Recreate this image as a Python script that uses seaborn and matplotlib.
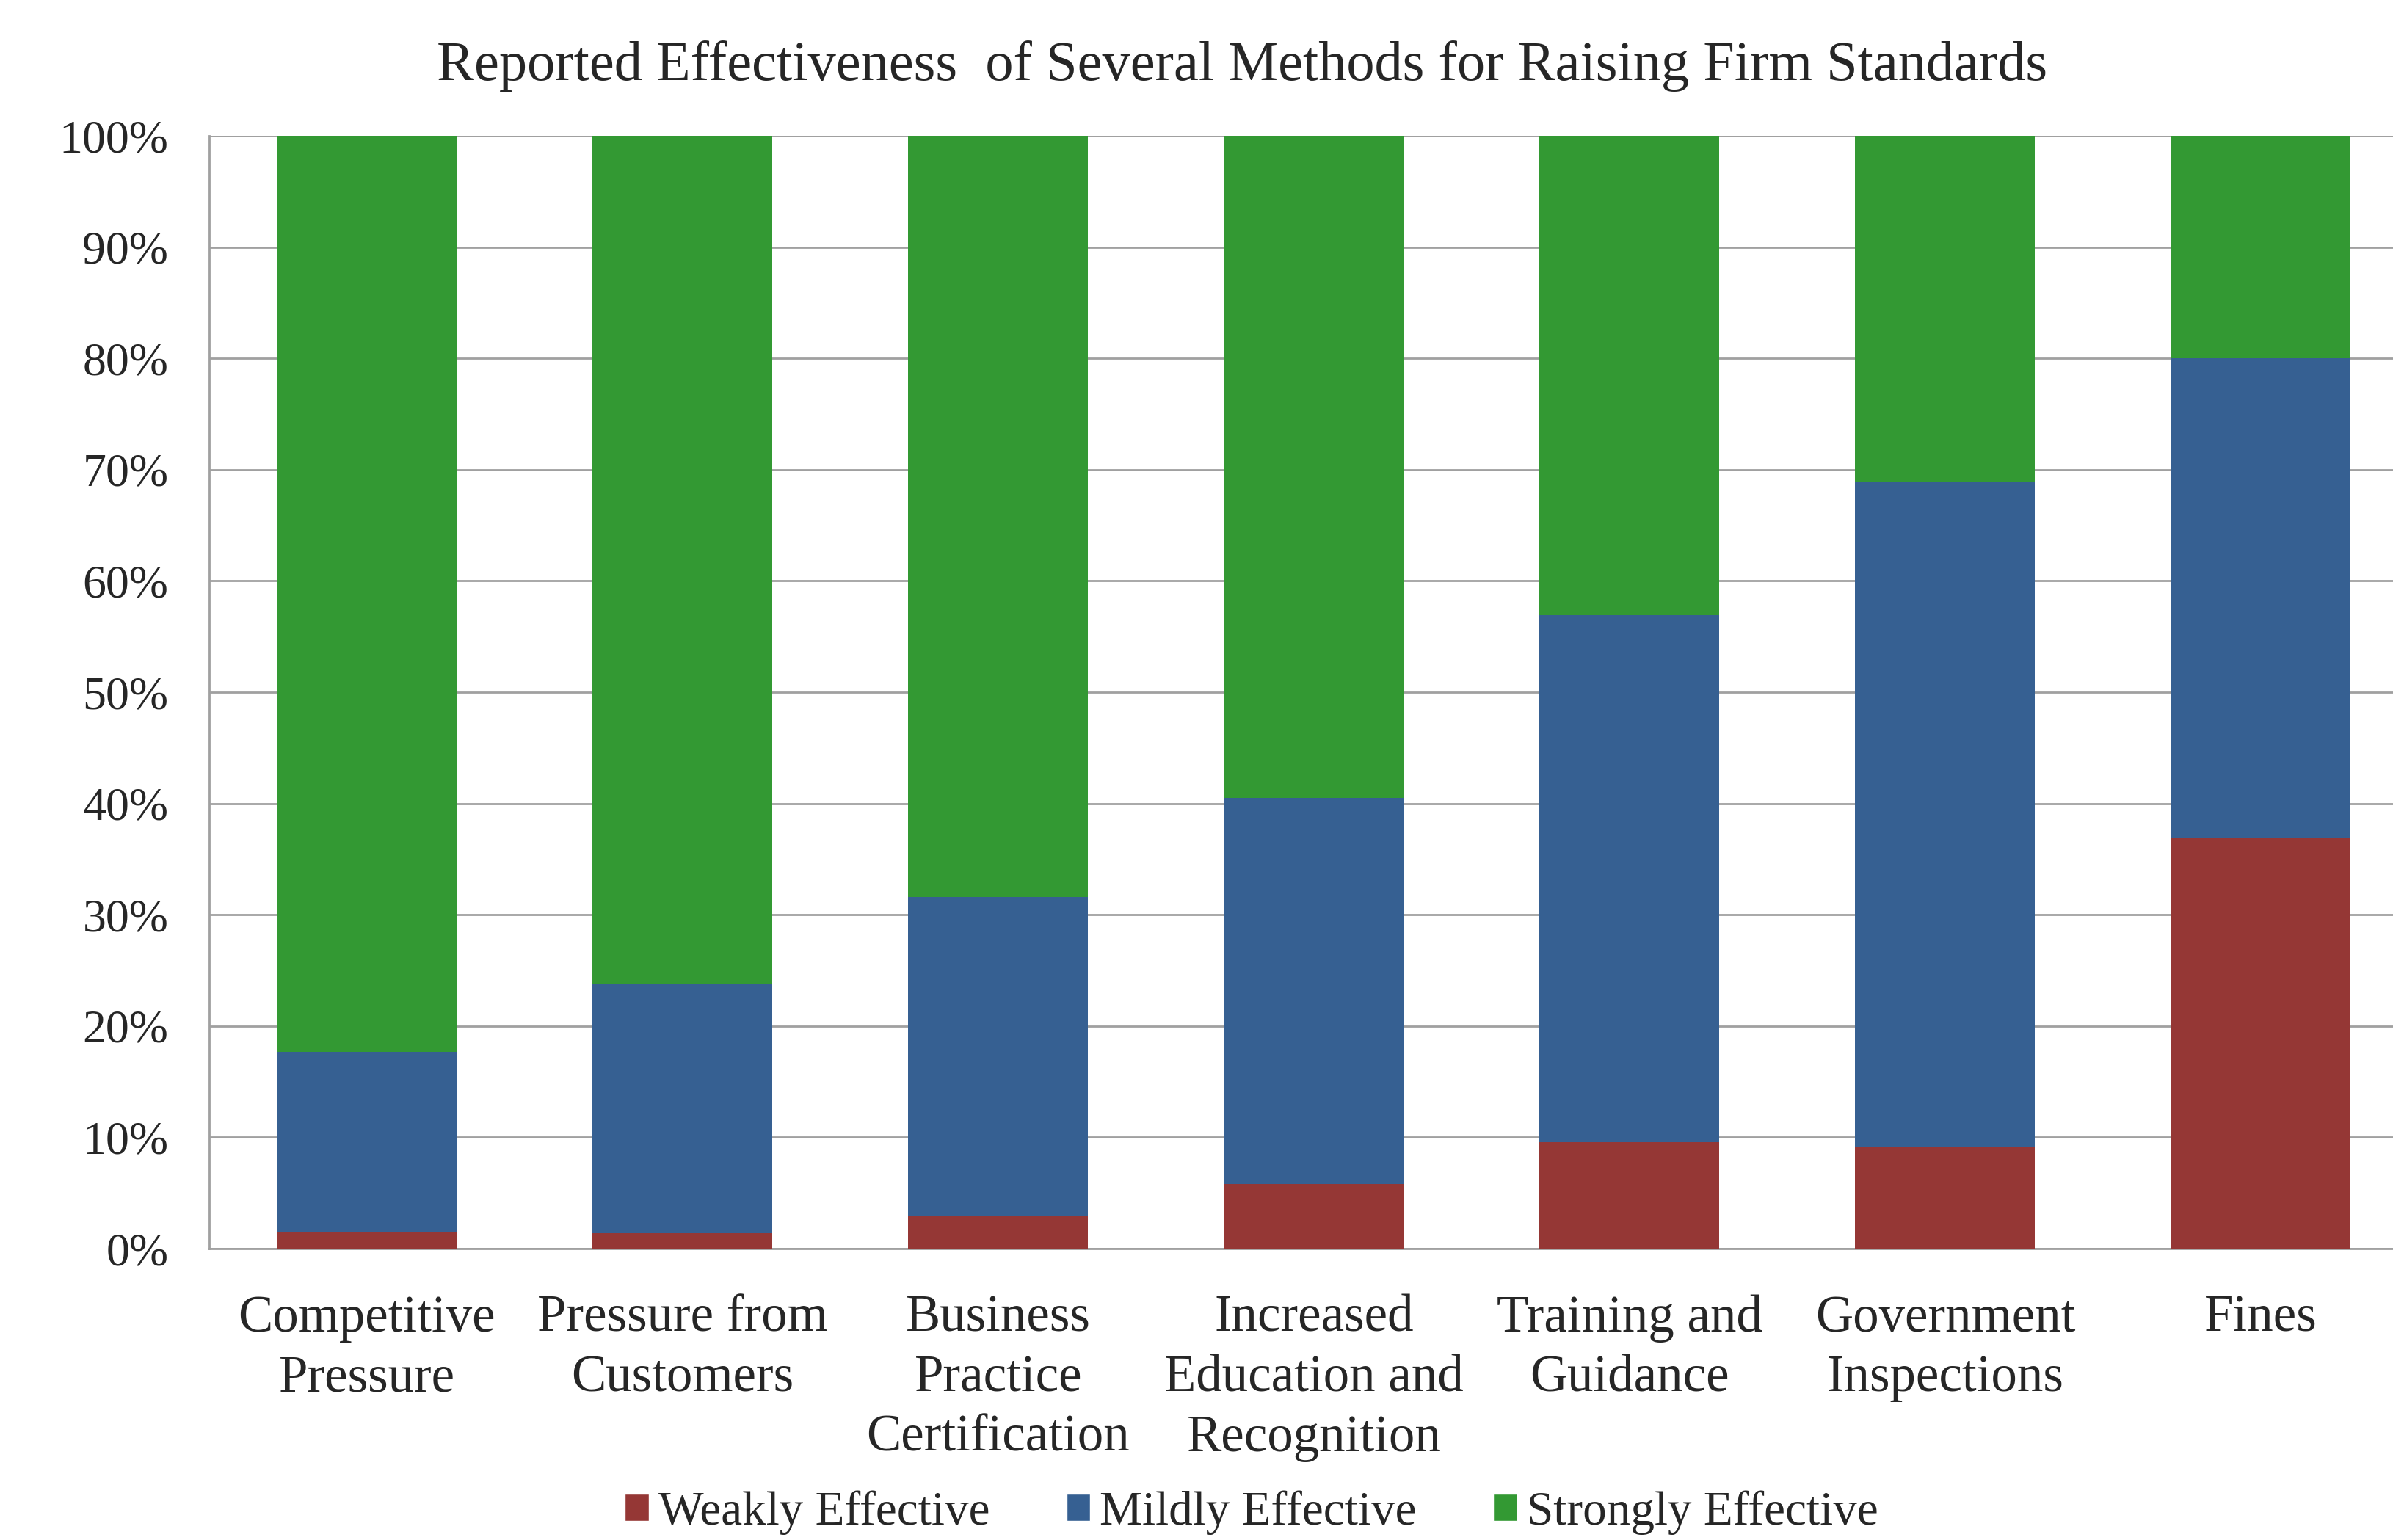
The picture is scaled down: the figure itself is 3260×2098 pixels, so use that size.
import numpy as np
import pandas as pd
import matplotlib
matplotlib.use("Agg")
import matplotlib.pyplot as plt
from matplotlib.patches import Patch
from matplotlib.ticker import PercentFormatter
import seaborn as sns

methods = ["Competitive\nPressure", "Pressure from\nCustomers", "Business\nPractice\nCertification",
           "Increased\nEducation and\nRecognition", "Training and\nGuidance", "Government\nInspections", "Fines"]
weak = [1.5, 1.4, 3.0, 5.8, 9.6, 9.2, 36.9]
mild = [16.2, 22.4, 28.6, 34.7, 47.3, 59.7, 43.1]
strong = [82.3, 76.2, 68.4, 59.5, 43.1, 31.1, 20.0]
series = ["Weakly Effective", "Mildly Effective", "Strongly Effective"]
colors = ["#953735", "#366092", "#339933"]

df = pd.DataFrame({"method": methods, "weak": weak, "mild": mild, "strong": strong})
df["c_weak"] = df["weak"]
df["c_mild"] = df["weak"] + df["mild"]
df["c_strong"] = df["c_mild"] + df["strong"]

sns.set_style("white")
plt.rcParams["font.family"] = ["Liberation Serif", "DejaVu Serif"]

fig = plt.figure(figsize=(32.6, 20.98), dpi=100)
ax = fig.add_axes([0.0874, 0.1892, 0.9233, 0.7226])

# stacked bars: draw cumulative totals from top layer down
for col, c in zip(["c_strong", "c_mild", "c_weak"], [colors[2], colors[1], colors[0]]):
    sns.barplot(data=df, x="method", y=col, color=c, width=0.57, ax=ax,
                saturation=1, errorbar=None, zorder=3, linewidth=0, edgecolor="none")

ax.set_xlim(-0.5, 6.5)
ax.set_ylim(0, 100)
ax.set_yticks(np.arange(0, 101, 10))
ax.yaxis.set_major_formatter(PercentFormatter(decimals=0))
ax.yaxis.grid(True, color="#a0a0a0", linewidth=2, zorder=0)
ax.set_axisbelow(True)
ax.set_xlabel("")
ax.set_ylabel("")
for s in ["top", "right"]:
    ax.spines[s].set_visible(False)
for s in ["left", "bottom"]:
    ax.spines[s].set_color("#a0a0a0")
    ax.spines[s].set_linewidth(2)
ax.tick_params(axis="y", length=0, pad=40, labelsize=46)
ax.tick_params(axis="x", length=0, pad=45, labelsize=51)
for lbl in ax.get_xticklabels():
    lbl.set_linespacing(1.33)

fig.text(0.519, 0.957, "Reported Effectiveness  of Several Methods for Raising Firm Standards",
         ha="center", va="center", fontsize=55)

handles = [Patch(facecolor=c, label=l) for c, l in zip(colors, series)]
fig.legend(handles=handles, loc="center", bbox_to_anchor=(0.523, 0.018), ncol=3, frameon=False,
           fontsize=47, handlelength=0.5, handleheight=0.5, handletextpad=0.2, columnspacing=1.6)

fig.savefig("out.png", dpi=100)
